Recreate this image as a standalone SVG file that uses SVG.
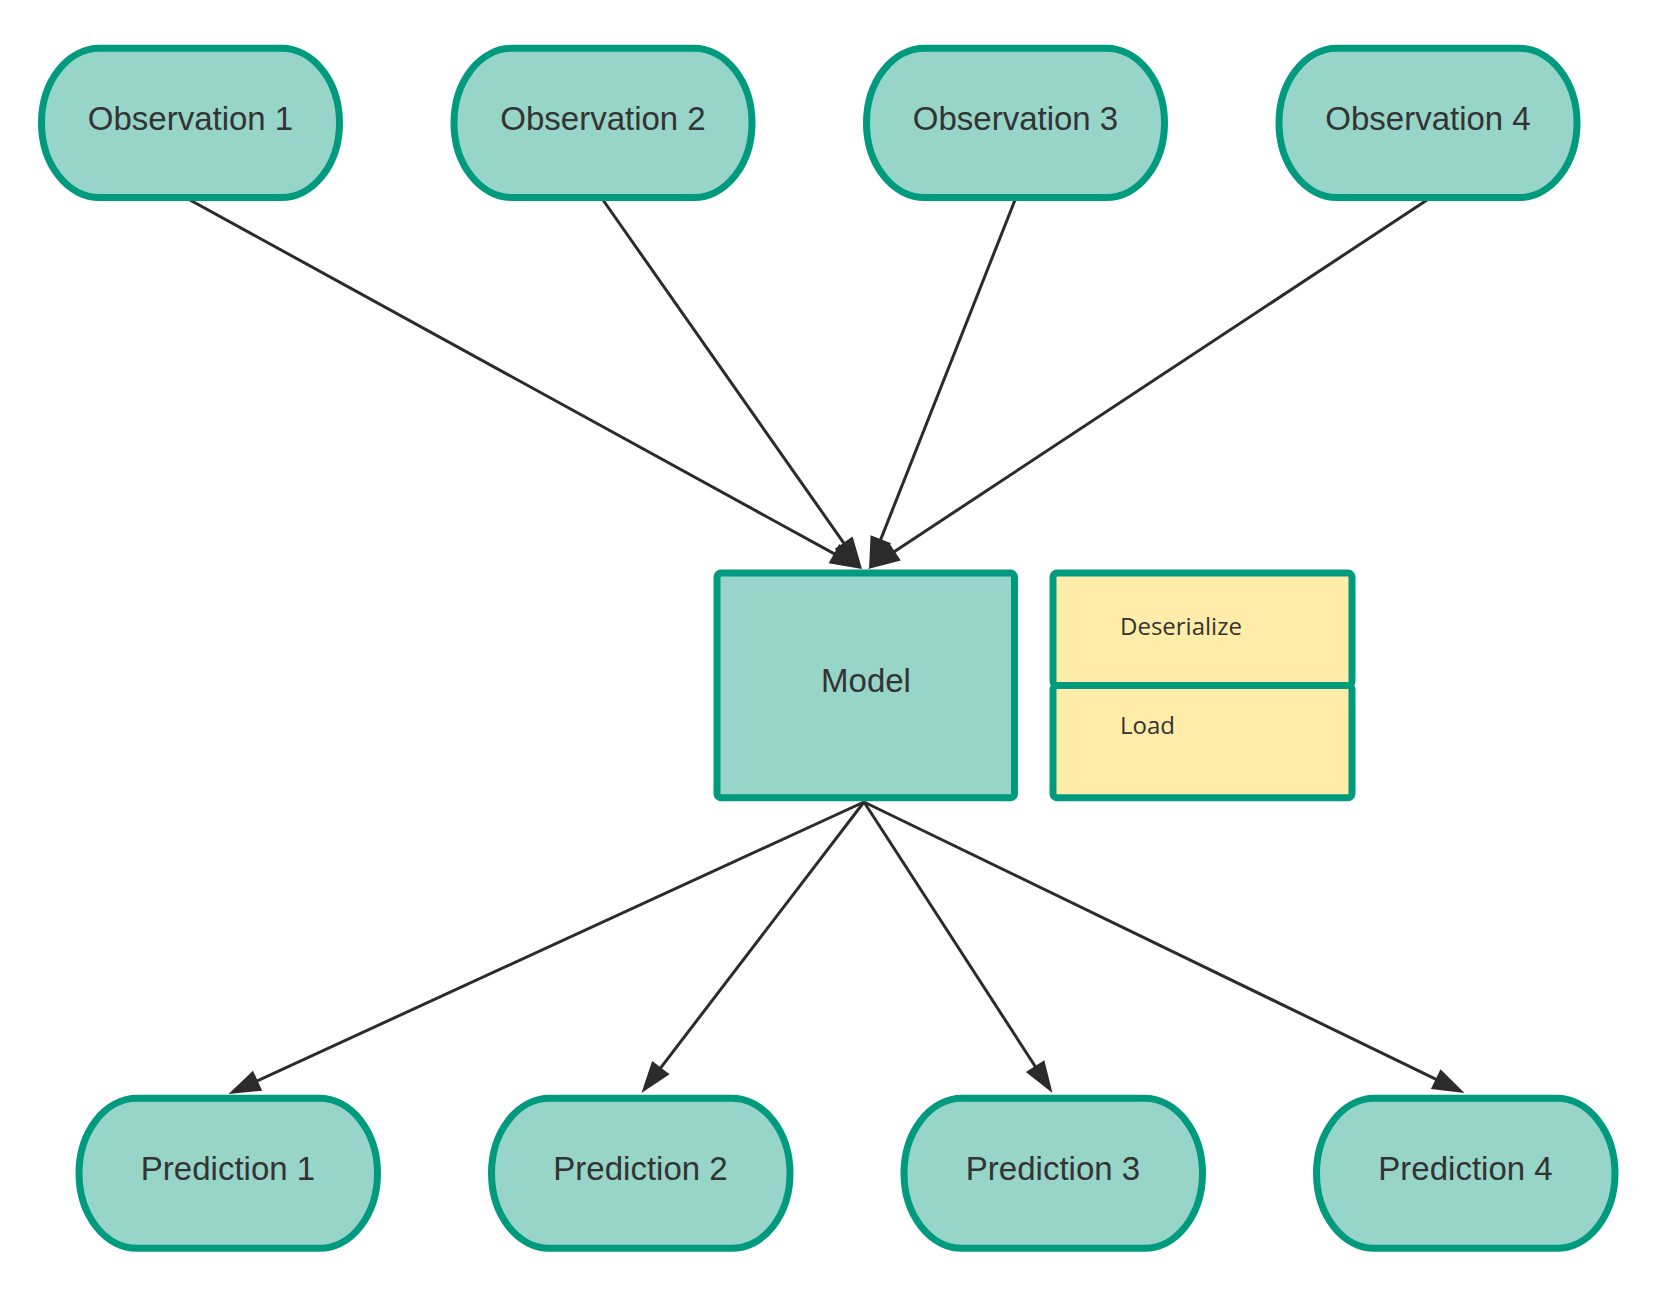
<svg xmlns="http://www.w3.org/2000/svg" width="1661" height="1291" viewBox="0 0 1661 1291">
  <style>
    .term { fill: #97d5c9; stroke: #009a7e; stroke-width: 7; }
    .box { fill: #97d5c9; stroke: #009a7e; stroke-width: 7; }
    .note { fill: #ffeca9; stroke: #009a7e; stroke-width: 7; }
    .lbl { font-family: "Liberation Sans", Arial, sans-serif; font-size: 33px; fill: #333333; text-anchor: middle; }
    .nlbl { font-family: "Open Sans", "Noto Sans", sans-serif; font-size: 24px; fill: #333333; }
    .edge { fill: none; stroke: #2b2b2b; stroke-width: 3; }
  </style>
  <defs>
    <marker id="arrow" markerUnits="userSpaceOnUse" markerWidth="32" markerHeight="22" viewBox="0 0 32 22" refX="12" refY="11" orient="auto" overflow="visible">
      <path d="M0,0 L32,11 L0,22 z" fill="#2b2b2b"/>
    </marker>
  </defs>
  <rect width="1661" height="1291" fill="#ffffff"/>

  <g id="connectors">
    <line class="edge" x1="190" y1="200" x2="844.5" y2="559.4" marker-end="url(#arrow)"/>
    <line class="edge" x1="603" y1="200" x2="850.5" y2="552.6" marker-end="url(#arrow)"/>
    <line class="edge" x1="1015" y1="200" x2="876.4" y2="550.4" marker-end="url(#arrow)"/>
    <line class="edge" x1="1427" y1="200" x2="884.7" y2="558.0" marker-end="url(#arrow)"/>
    <line class="edge" x1="864" y1="802" x2="246.7" y2="1085.7" marker-end="url(#arrow)"/>
    <line class="edge" x1="864" y1="802" x2="653.6" y2="1077.1" marker-end="url(#arrow)"/>
    <line class="edge" x1="864" y1="802" x2="1041.6" y2="1076.2" marker-end="url(#arrow)"/>
    <line class="edge" x1="864" y1="802" x2="1446.5" y2="1084.3" marker-end="url(#arrow)"/>
  </g>

  <g id="obs1">
    <rect class="term" x="41.5" y="48.3" width="298" height="149.2" rx="58" ry="74.6"/>
    <text class="lbl" x="190.5" y="130">Observation 1</text>
  </g>
  <g id="obs2">
    <rect class="term" x="454" y="48.3" width="298" height="149.2" rx="58" ry="74.6"/>
    <text class="lbl" x="603" y="130">Observation 2</text>
  </g>
  <g id="obs3">
    <rect class="term" x="866.5" y="48.3" width="298" height="149.2" rx="58" ry="74.6"/>
    <text class="lbl" x="1015.5" y="130">Observation 3</text>
  </g>
  <g id="obs4">
    <rect class="term" x="1279" y="48.3" width="298" height="149.2" rx="58" ry="74.6"/>
    <text class="lbl" x="1428" y="130">Observation 4</text>
  </g>

  <g id="model">
    <rect class="box" x="717" y="573" width="297.5" height="224.8" rx="4" ry="4"/>
    <text class="lbl" x="866" y="692">Model</text>
  </g>

  <g id="deserialize">
    <rect class="note" x="1053" y="573" width="299" height="112.5" rx="4" ry="4"/>
    <text class="nlbl" x="1120" y="635">Deserialize</text>
  </g>
  <g id="load">
    <rect class="note" x="1053" y="685.5" width="299" height="112.3" rx="4" ry="4"/>
    <text class="nlbl" x="1120" y="734">Load</text>
  </g>

  <g id="pred1">
    <rect class="term" x="79" y="1098.3" width="298.5" height="150" rx="58" ry="75"/>
    <text class="lbl" x="228" y="1180">Prediction 1</text>
  </g>
  <g id="pred2">
    <rect class="term" x="491.5" y="1098.3" width="298.5" height="150" rx="58" ry="75"/>
    <text class="lbl" x="640.5" y="1180">Prediction 2</text>
  </g>
  <g id="pred3">
    <rect class="term" x="904" y="1098.3" width="298.5" height="150" rx="58" ry="75"/>
    <text class="lbl" x="1053" y="1180">Prediction 3</text>
  </g>
  <g id="pred4">
    <rect class="term" x="1316.5" y="1098.3" width="298.5" height="150" rx="58" ry="75"/>
    <text class="lbl" x="1465.5" y="1180">Prediction 4</text>
  </g>
</svg>
